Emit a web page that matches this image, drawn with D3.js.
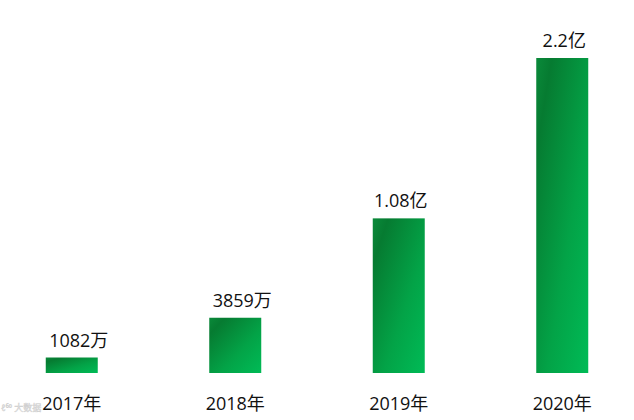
<!DOCTYPE html>
<html><head><meta charset="utf-8">
<script src="https://cdn.jsdelivr.net/npm/d3@7"></script>
<style>html,body{margin:0;padding:0;background:#fff;}svg{display:block;}</style>
</head><body>
<svg id="c" width="634" height="420"></svg>
<script>
const categories = ["2017年", "2018年", "2019年", "2020年"];
const values = [1082, 3859, 10800, 22000]; // 单位：万
const valueLabels = ["1082万", "3859万", "1.08亿", "2.2亿"];

const W = 634, H = 420;
const svg = d3.select("#c");
const font = "'Open Sans', 'Noto Sans CJK SC', sans-serif";

const baseY = 373;
const x = d3.scaleBand().domain(categories).range([-10, 644]).paddingInner(0.682).paddingOuter(0.341);
const y = d3.scaleLinear().domain([0, 22000]).range([baseY, 58]);

const defs = svg.append("defs");
const g = defs.append("linearGradient").attr("id", "grad")
  .attr("x1", 0).attr("y1", 0).attr("x2", 1).attr("y2", 1);
g.append("stop").attr("offset", 0).attr("stop-color", "#0a8a3a");
g.append("stop").attr("offset", 0.15).attr("stop-color", "#067b31");
g.append("stop").attr("offset", 0.6).attr("stop-color", "#03a347");
g.append("stop").attr("offset", 1).attr("stop-color", "#00bb56");

svg.selectAll("rect.bar").data(values).join("rect")
  .attr("class", "bar")
  .attr("x", (d, i) => x(categories[i]))
  .attr("width", x.bandwidth())
  .attr("y", d => y(d))
  .attr("height", d => baseY - y(d))
  .attr("fill", "url(#grad)");

svg.selectAll("text.val").data(values).join("text")
  .attr("class", "val")
  .attr("x", (d, i) => x(categories[i]) + x.bandwidth() / 2 + (i < 2 ? 7 : 2))
  .attr("y", d => y(d) - 11)
  .attr("text-anchor", "middle")
  .attr("font-family", font)
  .attr("font-size", 18)
  .attr("fill", "#111")
  .text((d, i) => valueLabels[i]);

const xAxis = d3.axisBottom(x).tickSize(0).tickPadding(0);
const ax = svg.append("g").attr("transform", `translate(0,${baseY})`).call(xAxis);
ax.select(".domain").remove();
ax.selectAll("text")
  .attr("y", 37).attr("dy", 0)
  .attr("font-family", font)
  .attr("font-size", 18)
  .attr("fill", "#111");

// watermark
svg.append("text").attr("x", 1).attr("y", 411)
  .attr("font-family", font).attr("font-size", 9)
  .attr("fill", "#e4e4e4").attr("stroke", "#cfcfcf").attr("stroke-width", 0.4)
  .text("ℓ⁶⁰ 大数据");
</script>
</body></html>
